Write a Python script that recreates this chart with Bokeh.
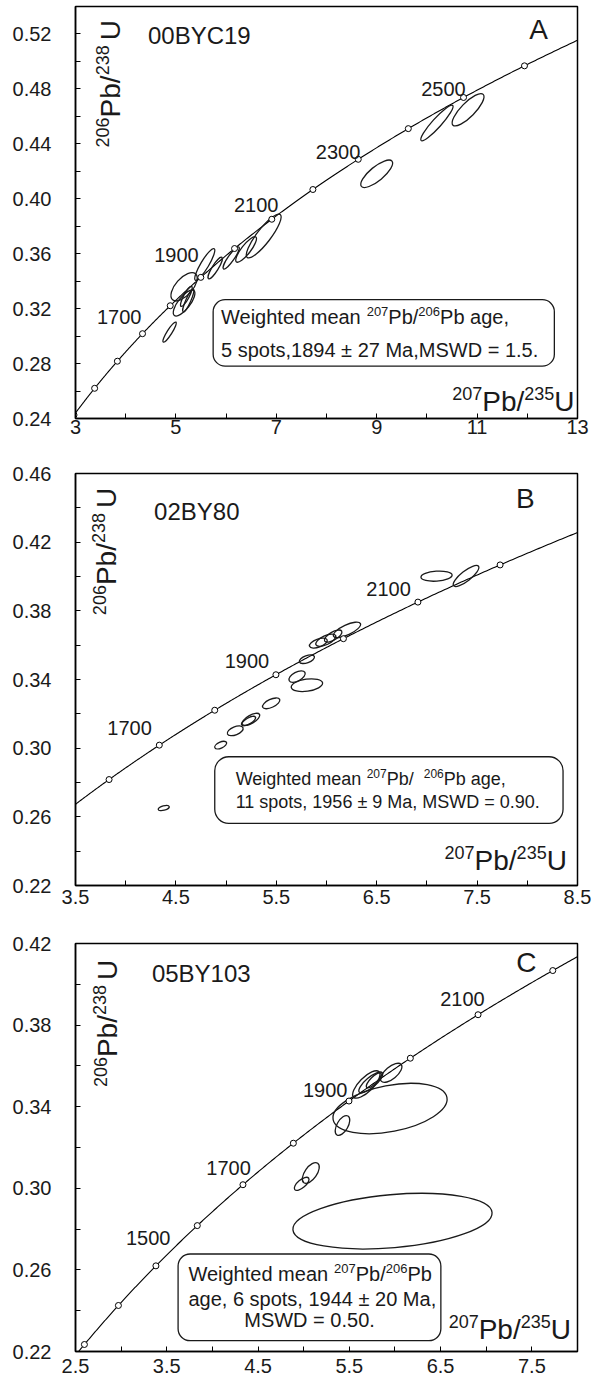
import numpy as np
from bokeh.plotting import figure
from bokeh.models import FixedTicker, Label, BoxAnnotation, Range1d
from bokeh.layouts import column
from bokeh.embed import file_html
from bokeh.resources import INLINE

FONT = "Liberation Sans"
INK = "#1a1a1a"

# decay constants (1/Ma) that define the concordia curve
LAMBDA_238 = 1.55125e-4
LAMBDA_235 = 9.8485e-4

# ---------------- Panel A : 00BYC19 ----------------
A_marker_ages = [1300, 1400, 1500, 1600, 1700, 1800, 1900, 2000, 2100, 2200, 2300, 2400, 2500, 2600, 2700]
A_ell_x = [6.749, 6.399, 6.101, 5.783, 5.575, 5.163, 5.163, 5.247, 5.208, 4.874, 9.00, 10.20, 10.82]
A_ell_y = [0.3729, 0.3631, 0.3569, 0.3496, 0.3522, 0.3359, 0.3241, 0.3259, 0.3289, 0.3029, 0.4182, 0.4552, 0.4648]
A_ell_w = [1.08, 0.63, 0.53, 0.50, 0.73, 0.69, 0.63, 0.50, 0.45, 0.47, 0.79, 0.94, 0.86]
A_ell_h = [0.0102, 0.0066, 0.0044, 0.0044, 0.0058, 0.0124, 0.0087, 0.0036, 0.0040, 0.0036, 0.0102, 0.0066, 0.0102]
A_ell_angle = [52.5, 52, 55, 58, 59, 48.5, 52, 66, 62, 57.5, 39.5, 48, 45.5]
A_age_labels = ["1700", "1900", "2100", "2300", "2500"]
A_xticks = [3, 5, 7, 9, 11, 13]
A_xminor = [4, 6, 8, 10, 12]
A_yticks = [0.24, 0.28, 0.32, 0.36, 0.40, 0.44, 0.48, 0.52]
A_yminor = [0.26, 0.30, 0.34, 0.38, 0.42, 0.46, 0.50]
A_xticklabels = ["3", "5", "7", "9", "11", "13"]
A_yticklabels = ["0.24", "0.28", "0.32", "0.36", "0.40", "0.44", "0.48", "0.52"]

# ---------------- Panel B : 02BY80 ----------------
B_marker_ages = [1400, 1500, 1600, 1700, 1800, 1900, 2000, 2100, 2200, 2300]
B_ell_x = [7.096, 7.39, 5.919, 5.993, 6.066, 6.204, 5.805, 5.707, 5.805, 5.449, 5.247, 5.224, 5.091, 4.946, 4.379]
B_ell_y = [0.4002, 0.4003, 0.3612, 0.3629, 0.3653, 0.3689, 0.3518, 0.3417, 0.3367, 0.3261, 0.3168, 0.3158, 0.3101, 0.3018, 0.2651]
B_ell_w = [0.311, 0.315, 0.187, 0.217, 0.197, 0.296, 0.158, 0.177, 0.315, 0.187, 0.197, 0.158, 0.167, 0.128, 0.113]
B_ell_h = [0.0058, 0.0058, 0.0047, 0.0052, 0.0047, 0.0058, 0.0041, 0.0052, 0.0070, 0.0047, 0.0047, 0.0035, 0.0047, 0.0035, 0.0026]
B_ell_angle = [4, 38, 20, 25, 30, 25, 20, 28, 8, 25, 30, 30, 22, 25, 15]
B_age_labels = ["1700", "1900", "2100"]
B_xticks = [3.5, 4.5, 5.5, 6.5, 7.5, 8.5]
B_xminor = [4, 5, 6, 7, 8]
B_yticks = [0.22, 0.26, 0.30, 0.34, 0.38, 0.42, 0.46]
B_yminor = [0.24, 0.28, 0.32, 0.36, 0.40, 0.44]
B_xticklabels = ["3.5", "4.5", "5.5", "6.5", "7.5", "8.5"]
B_yticklabels = ["0.22", "0.26", "0.30", "0.34", "0.38", "0.42", "0.46"]

# ---------------- Panel C : 05BY103 ----------------
C_marker_ages = [1300, 1400, 1500, 1600, 1700, 1800, 1900, 2000, 2100, 2200]
C_ell_x = [5.946, 5.425, 5.686, 5.735, 5.768, 5.959, 5.078, 4.978, 5.973]
C_ell_y = [0.3391, 0.3308, 0.3509, 0.3519, 0.3529, 0.3566, 0.3075, 0.3022, 0.2839]
C_ell_w = [1.27, 0.241, 0.394, 0.329, 0.219, 0.285, 0.263, 0.197, 2.19]
C_ell_h = [0.0226, 0.0054, 0.0069, 0.0049, 0.0034, 0.0059, 0.0059, 0.0039, 0.026]
C_ell_angle = [11, 60, 45, 40, 45, 40, 55, 40, 5]
C_age_labels = ["1500", "1700", "1900", "2100"]
C_xticks = [2.5, 3.5, 4.5, 5.5, 6.5, 7.5]
C_xminor = [3, 4, 5, 6, 7, 8]
C_yticks = [0.22, 0.26, 0.30, 0.34, 0.38, 0.42]
C_yminor = [0.24, 0.28, 0.32, 0.36, 0.40]
C_xticklabels = ["2.5", "3.5", "4.5", "5.5", "6.5", "7.5"]
C_yticklabels = ["0.22", "0.26", "0.30", "0.34", "0.38", "0.42"]

# ---------------- text helpers ----------------
CW = {'0': .556, '1': .556, '2': .556, '3': .556, '4': .556, '5': .556, '6': .556, '7': .556,
      '8': .556, '9': .556, '.': .278, ',': .278, ' ': .278, '/': .278, '±': .584, '=': .584,
      'W': .944, 'e': .556, 'i': .222, 'g': .556, 'h': .556, 't': .278, 'd': .556, 'm': .833,
      'a': .556, 'n': .556, 'P': .667, 'b': .556, 's': .5, 'p': .556, 'o': .556, 'M': .833,
      'S': .667, 'D': .722, 'U': .722}
MID = 0.35  # distance (in em) from alphabetic baseline up to the "middle" anchor


def tw(text, size):
    return sum(CW.get(c, .556) for c in text) * size


def rich(fig, x, y, segs, align="left", angle=0.0):
    """segments placed along a common alphabetic baseline at (x, y)."""
    widths = [tw(t, s) for t, s, r in segs]
    total = sum(widths)
    pos = {"left": 0.0, "right": -total, "center": -total / 2}[align]
    for (t, s, r), w in zip(segs, widths):
        up = r + MID * s
        if angle == 0.0:
            xo, yo = pos, up
        else:
            xo, yo = -up, pos
        fig.add_layout(Label(x=x, y=y, text=t, text_font=FONT, text_font_size=f"{s}px",
                             text_color=INK, text_align="left", text_baseline="middle",
                             angle=angle, x_offset=xo, y_offset=yo))
        pos += w


def conc(ages):
    a = np.asarray(ages, dtype=float)
    return np.expm1(LAMBDA_235 * a), np.expm1(LAMBDA_238 * a)


def make_panel(xr, yr, height, mbl, mbr, mbt, mbb, xt, xm, yt, ym, xtl, ytl, xstand,
               ell, ages):
    p = figure(width=600, height=height, x_range=Range1d(*xr), y_range=Range1d(*yr),
               output_backend="svg", toolbar_location=None,
               min_border_left=mbl, min_border_right=mbr, min_border_top=mbt,
               min_border_bottom=mbb)
    p.xgrid.visible = False
    p.ygrid.visible = False
    p.outline_line_color = "black"
    p.outline_line_width = 1.5
    p.outline_line_alpha = 1.0
    p.background_fill_color = "white"
    p.border_fill_color = "white"
    for ax, ticks, minor, labels, stand in ((p.xaxis[0], xt, xm, xtl, xstand),
                                             (p.yaxis[0], yt, ym, ytl, 24)):
        ax.ticker = FixedTicker(ticks=ticks, minor_ticks=minor)
        ax.major_label_overrides = {t: l for t, l in zip(ticks, labels)}
        ax.major_tick_in = 5
        ax.major_tick_out = 0
        ax.minor_tick_in = 5
        ax.minor_tick_out = 0
        ax.major_tick_line_color = "black"
        ax.minor_tick_line_color = "black"
        ax.axis_line_width = 1.5
        ax.major_label_text_font = FONT
        ax.major_label_text_font_size = "20px"
        ax.major_label_text_color = INK
        ax.major_label_standoff = stand
    # concordia curve
    t = np.linspace(1000, 3000, 800)
    cx, cy = conc(t)
    p.line(cx, cy, line_color="black", line_width=1.1)
    ex, ey, ew, eh, ea = ell
    p.ellipse(x=ex, y=ey, width=ew, height=eh, angle=ea, angle_units="deg",
              fill_color=None, line_color=INK, line_width=1.3)
    mx, my = conc(ages)
    p.scatter(mx, my, marker="circle", size=6, fill_color="white", line_color="black",
              line_width=1)
    return p


def age_labels(p, labels, xs, ys):
    for lab, x, y in zip(labels, xs, ys):
        p.add_layout(Label(x=x, y=y, text=lab, text_font=FONT, text_font_size="20px",
                           text_color=INK, text_align="center", text_baseline="middle"))


def title(p, name, x, y, letter, lx, ly):
    p.add_layout(Label(x=x, y=y, text=name, text_font=FONT, text_font_size="24px",
                       text_color=INK, text_align="left", text_baseline="middle",
                       y_offset=MID * 24))
    p.add_layout(Label(x=lx, y=ly, text=letter, text_font=FONT, text_font_size="28px",
                       text_color=INK, text_align="right", text_baseline="middle",
                       y_offset=MID * 28))


def axis_texts(p, xl, yl, num):
    rich(p, xl[0], xl[1], [(num[0], 18, 11), ("Pb/", 28, 0), (num[1], 18, 11), ("U", 28, 0)],
         align="right")
    rich(p, yl[0], yl[1], [("206", 18, 11), ("Pb/", 28, 0), (" 238", 18, 11), ("U", 28, 0)],
         angle=np.pi / 2)


def box(p, l, r, t, b, radius):
    p.add_layout(BoxAnnotation(left=l, right=r, top=t, bottom=b, fill_color="white",
                               fill_alpha=1.0, line_color=INK, line_alpha=1.0,
                               line_width=1.3, border_radius=radius, level="annotation"))


# ---------------- build A ----------------
pA = make_panel((3, 13), (0.24, 0.54), 456, 74, 17, 6, 38, A_xticks, A_xminor, A_yticks,
                A_yminor, A_xticklabels, A_yticklabels, 1,
                (A_ell_x, A_ell_y, A_ell_w, A_ell_h, A_ell_angle), A_marker_ages)
age_labels(pA, A_age_labels, [3.87, 5.01, 6.60, 8.23, 10.33],
           [0.3136, 0.3587, 0.3951, 0.4337, 0.4796])
title(pA, "00BYC19", 4.443, 0.5131, "A", 12.41, 0.516)
axis_texts(pA, (12.941, 0.2453), (3.885, 0.4374), ("207", "235"))
box(pA, 5.742, 12.539, 0.3265, 0.2781, 12)
rich(pA, 5.899, 0.3085, [("Weighted mean ", 20, 0), ("207", 13, 8), ("Pb/", 20, 0),
                         ("206", 13, 8), ("Pb age,", 20, 0)])
rich(pA, 5.899, 0.2846, [("5 spots,1894 ± 27 Ma,MSWD = 1.5.", 20, 0)])

# ---------------- build B ----------------
pB = make_panel((3.5, 8.5), (0.22, 0.46), 469, 74, 19, 17, 40, B_xticks, B_xminor, B_yticks,
                B_yminor, B_xticklabels, B_yticklabels, 4,
                (B_ell_x, B_ell_y, B_ell_w, B_ell_h, B_ell_angle), B_marker_ages)
age_labels(pB, B_age_labels, [4.039, 5.207, 6.618], [0.312, 0.3508, 0.3926])
title(pB, "02BY80", 4.283, 0.4328, "B", 8.073, 0.4396)
axis_texts(pB, (8.394, 0.229), (3.907, 0.3775), ("207", "235"))
box(pB, 4.887, 8.356, 0.295, 0.2562, 14)
rich(pB, 5.095, 0.2785, [("Weighted mean ", 18, 0), ("207", 12, 7), (" Pb/ ", 18, 0),
                         ("206", 12, 7), ("Pb age,", 18, 0)])
rich(pB, 5.095, 0.2649, [("11 spots, 1956 ± 9 Ma, MSWD = 0.90.", 18, 0)])

# ---------------- build C ----------------
pC = make_panel((2.5, 8.0), (0.22, 0.42), 457, 75, 23, 18, 31, C_xticks, C_xminor, C_yticks,
                C_yminor, C_xticklabels, C_yticklabels, 7,
                (C_ell_x, C_ell_y, C_ell_w, C_ell_h, C_ell_angle), C_marker_ages)
age_labels(pC, C_age_labels, [3.296, 4.177, 5.235, 6.74], [0.2756, 0.3099, 0.3484, 0.3926])
title(pC, "05BY103", 3.337, 0.4011, "C", 7.551, 0.4061)
axis_texts(pC, (7.928, 0.2261), (2.961, 0.3496), ("207", "235"))
box(pC, 3.624, 6.503, 0.2678, 0.2253, 12)
rich(pC, 3.737, 0.2547, [("Weighted mean ", 20, 0), ("207", 13, 8), ("Pb/", 20, 0),
                         ("206", 13, 8), ("Pb", 20, 0)])
rich(pC, 3.737, 0.2424, [("age, 6 spots, 1944 ± 20 Ma,", 20, 0)])
rich(pC, 5.064, 0.2318, [("MSWD = 0.50.", 20, 0)], align="center")

layout = column(pA, pB, pC)
open("out.html", "w").write(file_html(layout, INLINE))
